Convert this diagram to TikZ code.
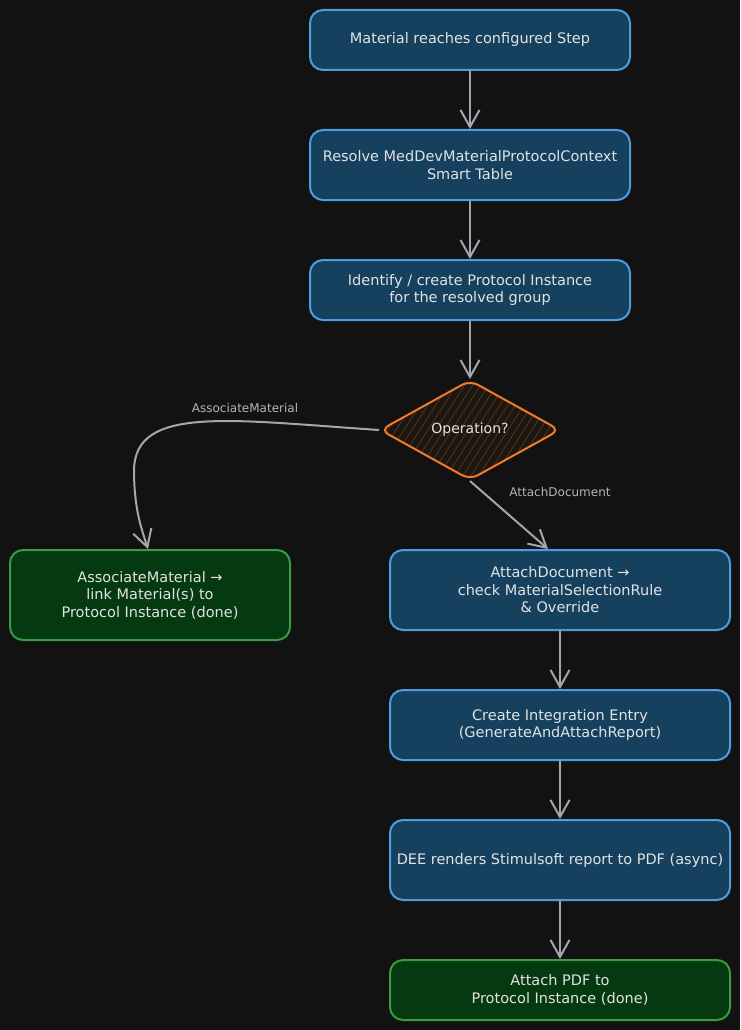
\documentclass[tikz,border=0pt]{standalone}
\usepackage{fontspec}
\setmainfont{DejaVu Sans}
\usetikzlibrary{arrows.meta,shapes.geometric,calc}
\definecolor{bg}{HTML}{121212}
\definecolor{bluefill}{HTML}{15415F}
\definecolor{bluedraw}{HTML}{4F9BE0}
\definecolor{greenfill}{HTML}{053A10}
\definecolor{greendraw}{HTML}{3A9A45}
\definecolor{orange}{HTML}{F07A2C}
\definecolor{diafill}{HTML}{1C1712}
\definecolor{hatch}{HTML}{5E3612}
\definecolor{txt}{HTML}{E2E2E2}
\definecolor{lbl}{HTML}{B5B5B5}
\definecolor{arrc}{HTML}{A3A6AD}
\tikzset{
  box/.style={rectangle, rounded corners=13pt, line width=2pt, text=txt,
    align=center, font=\fontsize{14.5}{17.5}\selectfont, inner sep=0pt},
  bluebox/.style={box, fill=bluefill, draw=bluedraw},
  greenbox/.style={box, fill=greenfill, draw=greendraw},
  arr/.style={draw=arrc, line width=2pt,
    -{Straight Barb[length=17pt,width=19pt,line width=2pt]}},
  edgelbl/.style={text=lbl, font=\fontsize{12}{14}\selectfont}
}
\begin{document}
\begin{tikzpicture}[x=1pt,y=-1pt]
\fill[bg] (0,0) rectangle (740,1030);
\useasboundingbox (0,0) rectangle (740,1030);

\node[bluebox, minimum width=320pt, minimum height=60pt] (n1) at (470,40)
  {Material reaches configured Step};
\node[bluebox, minimum width=320pt, minimum height=70pt] (n2) at (470,165)
  {Resolve MedDevMaterialProtocolContext\\Smart Table};
\node[bluebox, minimum width=320pt, minimum height=60pt] (n3) at (470,290)
  {Identify / create Protocol Instance\\for the resolved group};
\node[diamond, minimum width=180pt, minimum height=100pt, inner sep=0pt,
  rounded corners=9pt, draw=orange, line width=2pt, fill=diafill,
  text=txt, font=\fontsize{14}{16}\selectfont,
  path picture={
    \foreach \i in {-120,-112,...,200}
      \draw[hatch, line width=0.7pt]
        ($(path picture bounding box.south west)+(\i pt,0pt)$) -- ++(70pt,110pt);
  }] (dia) at (470,430) {Operation?};

\node[greenbox, minimum width=280pt, minimum height=90pt] (assoc) at (150,595)
  {AssociateMaterial →\\link Material(s) to\\Protocol Instance (done)};
\node[bluebox, minimum width=340pt, minimum height=80pt] (attach) at (560,590)
  {AttachDocument →\\check MaterialSelectionRule\\\& Override};
\node[bluebox, minimum width=340pt, minimum height=70pt] (integ) at (560,725)
  {Create Integration Entry\\(GenerateAndAttachReport)};
\node[bluebox, minimum width=340pt, minimum height=80pt] (dee) at (560,860)
  {DEE renders Stimulsoft report to PDF (async)};
\node[greenbox, minimum width=340pt, minimum height=60pt] (pdf) at (560,990)
  {Attach PDF to\\Protocol Instance (done)};

\draw[arr] (n1) -- (n2);
\draw[arr] (n2) -- (n3);
\draw[arr] (n3) -- (dia);
\coordinate (associn) at ($(assoc.north)+(-2,0)$);
\draw[arr] (dia.west) .. controls (230,420) and (135,405) .. (134,470)
  .. controls (134,510) and (142,530) .. (associn);
\coordinate (attachin) at ($(attach.north)+(-12,0)$);
\draw[arr] (dia.south) -- (attachin);
\draw[arr] (attach) -- (integ);
\draw[arr] (integ) -- (dee);
\draw[arr] (dee) -- (pdf);

\node[edgelbl] (l1) at (245,408) {AssociateMaterial};
\node[edgelbl] (l2) at (560,492) {AttachDocument};
\end{tikzpicture}
\end{document}
